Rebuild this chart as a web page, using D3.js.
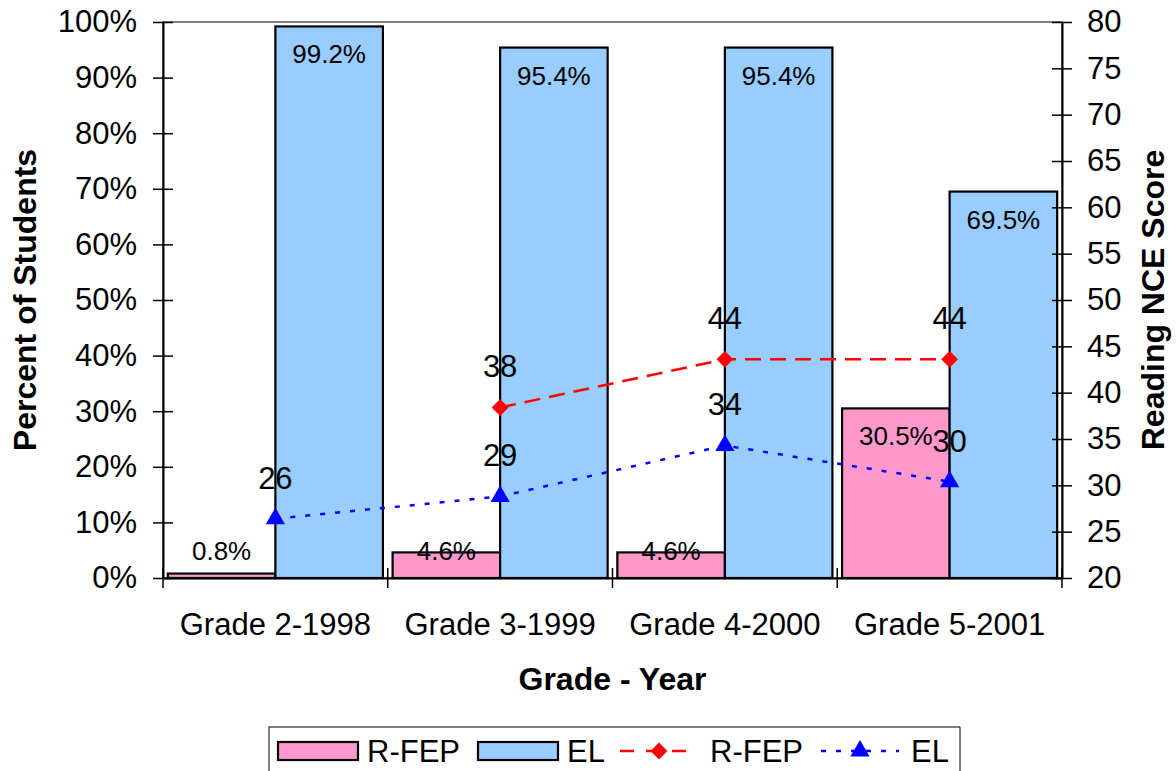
<!DOCTYPE html>
<html>
<head>
<meta charset="utf-8">
<script src="https://cdn.jsdelivr.net/npm/d3@7"></script>
<style>
  html, body { margin: 0; padding: 0; background: #fff; }
  svg { display: block; font-family: "Liberation Sans", Arial, sans-serif; }
</style>
</head>
<body>
<svg id="chart" width="1176" height="771"></svg>
<script>
// ---- data ----
const categories = ["Grade 2-1998", "Grade 3-1999", "Grade 4-2000", "Grade 5-2001"];
const barSeries = ["R-FEP", "EL"];
const rfepPct = [0.008, 0.046, 0.046, 0.305];
const elPct = [0.992, 0.954, 0.954, 0.695];
const rfepNCE = [null, 38.4, 43.6, 43.6];
const elNCE = [26.4, 28.8, 34.3, 30.4];
const leftTicks = [0, 0.1, 0.2, 0.3, 0.4, 0.5, 0.6, 0.7, 0.8, 0.9, 1.0];
const rightTicks = [20, 25, 30, 35, 40, 45, 50, 55, 60, 65, 70, 75, 80];

const barColors = { "R-FEP": "#FF99CC", "EL": "#99CCFF" };
const lineColors = { "R-FEP": "#FF0000", "EL": "#0000FF" };

const FS = 31;
const svg = d3.select("#chart");
const L = 163, R = 1062, T = 22, B = 578;

const x = d3.scaleBand().domain(categories).range([L, R]).paddingInner(0).paddingOuter(0);
const xs = d3.scaleBand().domain(barSeries).range([0, x.bandwidth()]).paddingInner(0).paddingOuter(0.045);
const yL = d3.scaleLinear().domain([0, 1]).range([B, T]);
const yR = d3.scaleLinear().domain([20, 80]).range([B, T]);

// plot area border (gray)
svg.append("rect").attr("x", L).attr("y", T).attr("width", R - L).attr("height", B - T)
  .attr("fill", "none").attr("stroke", "#808080").attr("stroke-width", 2);

// bars
const barData = [];
categories.forEach((c, i) => {
  barData.push({ cat: c, s: "R-FEP", v: rfepPct[i] });
  barData.push({ cat: c, s: "EL", v: elPct[i] });
});
const bars = svg.append("g");
bars.selectAll("rect").data(barData).join("rect")
  .attr("x", d => x(d.cat) + xs(d.s))
  .attr("y", d => yL(d.v))
  .attr("width", xs.bandwidth())
  .attr("height", d => B - yL(d.v))
  .attr("fill", d => barColors[d.s])
  .attr("stroke", "#000").attr("stroke-width", 2.2);

// bar labels
const fmtPct = d3.format(".1%");
bars.selectAll("text").data(barData).join("text")
  .attr("x", d => x(d.cat) + xs(d.s) + xs.bandwidth() / 2)
  .attr("y", d => Math.min(yL(d.v) + 28, B - 27) + 9)
  .attr("text-anchor", "middle")
  .attr("font-size", 26)
  .attr("fill", "#000")
  .text(d => fmtPct(d.v));

// axes
const axL = svg.append("g").attr("transform", `translate(${L},0)`)
  .call(d3.axisLeft(yL).tickValues(leftTicks).tickFormat(d3.format(".0%")).tickSizeOuter(0).tickSizeInner(10).tickPadding(16));
axL.selectAll(".tick line").attr("x2", 10).attr("x1", -10).attr("stroke-width", 1.5);
axL.select(".domain").attr("stroke-width", 2);
axL.selectAll("text").attr("font-size", FS).attr("font-family", "Liberation Sans, Arial, sans-serif").attr("x", -26);

const axR = svg.append("g").attr("transform", `translate(${R},0)`)
  .call(d3.axisRight(yR).tickValues(rightTicks).tickSizeOuter(0).tickSizeInner(10));
axR.selectAll(".tick line").attr("x1", -10).attr("x2", 10).attr("stroke-width", 1.5);
axR.select(".domain").attr("stroke-width", 2);
axR.selectAll("text").attr("font-size", FS).attr("font-family", "Liberation Sans, Arial, sans-serif").attr("x", 25);

const axB = svg.append("g").attr("transform", `translate(0,${B})`)
  .call(d3.axisBottom(x).tickSize(0).tickSizeOuter(0));
axB.select(".domain").attr("stroke-width", 2);
axB.selectAll("text").attr("font-size", FS).attr("font-family", "Liberation Sans, Arial, sans-serif").attr("y", 35).attr("dy", "0.71em");
// category boundary ticks
const bounds = categories.map(c => x(c)).concat([R]);
axB.selectAll(".bound").data(bounds).join("line").attr("class", "bound")
  .attr("x1", d => d).attr("x2", d => d).attr("y1", -10).attr("y2", 10)
  .attr("stroke", "#000").attr("stroke-width", 1.5);

// lines
const cx = c => x(c) + x.bandwidth() / 2;
function drawLine(values, color, dash, shape) {
  const pts = categories.map((c, i) => ({ c, v: values[i] })).filter(d => d.v != null);
  const line = d3.line().x(d => cx(d.c)).y(d => yR(d.v));
  svg.append("path").datum(pts).attr("d", line)
    .attr("fill", "none").attr("stroke", color).attr("stroke-width", 2.5)
    .attr("stroke-dasharray", dash);
  svg.append("g").selectAll("path").data(pts).join("path")
    .attr("transform", d => `translate(${cx(d.c)},${yR(d.v)})`)
    .attr("d", d3.symbol().type(shape).size(shape === d3.symbolTriangle ? 160 : 180))
    .attr("fill", color);
  svg.append("g").selectAll("text").data(pts).join("text")
    .attr("x", d => cx(d.c)).attr("y", d => yR(d.v) - 30)
    .attr("text-anchor", "middle").attr("font-size", FS).attr("fill", "#000")
    .text(d => d3.format(".0f")(d.v));
}
drawLine(rfepNCE, lineColors["R-FEP"], "16,9", d3.symbolDiamond2);
drawLine(elNCE, lineColors["EL"], "5,10", d3.symbolTriangle);

// axis titles
svg.append("text").attr("transform", `translate(36,${(T + B) / 2}) rotate(-90)`)
  .attr("text-anchor", "middle").attr("font-size", 32).attr("font-weight", "bold").text("Percent of Students");
svg.append("text").attr("transform", `translate(1164,${(T + B) / 2}) rotate(-90)`)
  .attr("text-anchor", "middle").attr("font-size", 32).attr("font-weight", "bold").text("Reading NCE Score");
svg.append("text").attr("x", (L + R) / 2).attr("y", 690)
  .attr("text-anchor", "middle").attr("font-size", 32).attr("font-weight", "bold").text("Grade - Year");

// legend
const lg = svg.append("g");
lg.append("rect").attr("x", 269).attr("y", 727).attr("width", 691).attr("height", 60)
  .attr("fill", "#fff").attr("stroke", "#000").attr("stroke-width", 1);
const legendItems = [
  { type: "bar", s: "R-FEP", x0: 278 },
  { type: "bar", s: "EL", x0: 478 },
  { type: "line", s: "R-FEP", x0: 620 },
  { type: "line", s: "EL", x0: 821 }
];
legendItems.forEach(it => {
  if (it.type === "bar") {
    lg.append("rect").attr("x", it.x0).attr("y", 742).attr("width", 80).attr("height", 18)
      .attr("fill", barColors[it.s]).attr("stroke", "#000").attr("stroke-width", 2.2);
    lg.append("text").attr("x", it.x0 + 89).attr("y", 762).attr("font-size", FS).text(it.s);
  } else {
    const col = lineColors[it.s];
    const isEL = it.s === "EL";
    lg.append("line").attr("x1", it.x0).attr("x2", it.x0 + 78).attr("y1", 751).attr("y2", 751)
      .attr("stroke", col).attr("stroke-width", 2.5)
      .attr("stroke-dasharray", isEL ? "5,10" : "14,12");
    lg.append("path").attr("transform", `translate(${it.x0 + 39},751)`)
      .attr("d", d3.symbol().type(isEL ? d3.symbolTriangle : d3.symbolDiamond2).size(isEL ? 160 : 180))
      .attr("fill", col);
    lg.append("text").attr("x", it.x0 + 90).attr("y", 762).attr("font-size", FS).text(it.s);
  }
});
</script>
</body>
</html>
